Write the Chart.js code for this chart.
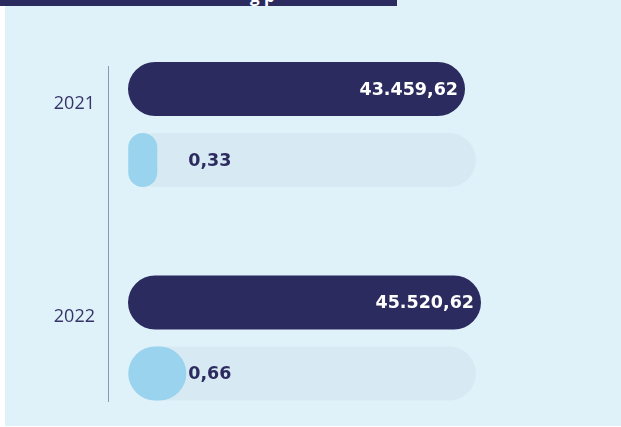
<!DOCTYPE html>
<html><head><meta charset="utf-8">
<script src="https://cdn.jsdelivr.net/npm/chart.js@4"></script>
<style>
html,body{margin:0;padding:0;background:#fff;width:621px;height:427px;overflow:hidden}
#panel{position:absolute;left:5px;top:0;width:616px;height:426px;background:#DFF1F9}
#topbar{position:absolute;left:0;top:0;width:397px;height:6px;background:#2C2B60;overflow:hidden}
#topbar span{position:absolute;left:250px;top:-16px;font:700 17px "Open Sans";color:#fff;white-space:nowrap;line-height:23px}
canvas{position:absolute;left:0;top:0}
</style></head><body>
<div id="panel"></div>
<canvas id="c" width="621" height="427"></canvas>
<div id="topbar"><span>g p</span></div>
<script>
const categories = ['2021', '2022'];
const primaryValues = [43459.62, 45520.62];
const secondaryValues = [0.33, 0.66];
const trackLength = [3.95, 3.95];

const NAVY = '#2C2B60';
const LIGHT = '#9AD3EE';
const TRACK = '#D7EAF3';
const AXIS = '#8E97B8';
const YEAR = '#36356A';

function fmt(v) {
  const parts = v.toFixed(2).split('.');
  return parts[0].replace(/\B(?=(\d{3})+(?!\d))/g, '.') + ',' + parts[1];
}

const valueLabels = {
  id: 'valueLabels',
  afterDatasetsDraw(chart) {
    const c = chart.ctx;
    c.save();
    c.textBaseline = 'middle';
    c.font = 'bold 17.5px "DejaVu Sans"';
    chart.getDatasetMeta(0).data.forEach((el, i) => {
      c.fillStyle = '#FFFFFF';
      c.textAlign = 'right';
      c.fillText(fmt(primaryValues[i]), el.x - 7, el.y + 1);
    });
    chart.getDatasetMeta(1).data.forEach((el, i) => {
      c.fillStyle = NAVY;
      c.textAlign = 'left';
      c.fillText(fmt(secondaryValues[i]), el.base + 60, el.y + 1);
    });
    c.restore();
  }
};

const common = {
  borderRadius: 40,
  borderSkipped: false,
  categoryPercentage: 0.665,
  barPercentage: 0.76,
  clip: false
};

new Chart(document.getElementById('c'), {
  type: 'bar',
  data: {
    datasets: [
      Object.assign({ label: 'primary', data: primaryValues.map((v, i) => ({ x: v, y: i })), xAxisID: 'x', stack: 'a', backgroundColor: NAVY }, common),
      Object.assign({ label: 'secondary', data: secondaryValues.map((v, i) => ({ x: v, y: i })), xAxisID: 'x2', stack: 'b', backgroundColor: LIGHT }, common),
      Object.assign({ label: 'track', data: trackLength.map((v, i) => ({ x: v, y: i })), xAxisID: 'x2', stack: 'b', backgroundColor: TRACK }, common)
    ]
  },
  options: {
    indexAxis: 'y',
    responsive: false,
    animation: false,
    events: [],
    layout: { padding: { top: 66, bottom: 26, left: 0, right: 101 } },
    plugins: { legend: { display: false }, tooltip: { enabled: false }, title: { display: false } },
    scales: {
      y: {
        type: 'linear',
        reverse: true,
        min: -0.274,
        max: 1.295,
        bounds: 'data',
        offset: false,
        afterBuildTicks: (scale) => { scale.ticks = categories.map((c, i) => ({ value: i })); },
        afterFit: (scale) => { scale.width = 108; },
        grid: { display: false, drawTicks: false },
        border: { display: true, color: AXIS, width: 1 },
        ticks: {
          padding: 13,
          labelOffset: -21,
          color: YEAR,
          font: { family: '"Open Sans"', size: 18, weight: 400 },
          callback: (v) => categories[v]
        }
      },
      x: { type: 'linear', display: false, min: -2580, max: 50550, stacked: false, bounds: 'data' },
      x2: { type: 'linear', display: false, position: 'bottom', min: -0.23, max: 4.45, stacked: false, bounds: 'data' }
    }
  },
  plugins: [valueLabels]
});
</script>
</body></html>
